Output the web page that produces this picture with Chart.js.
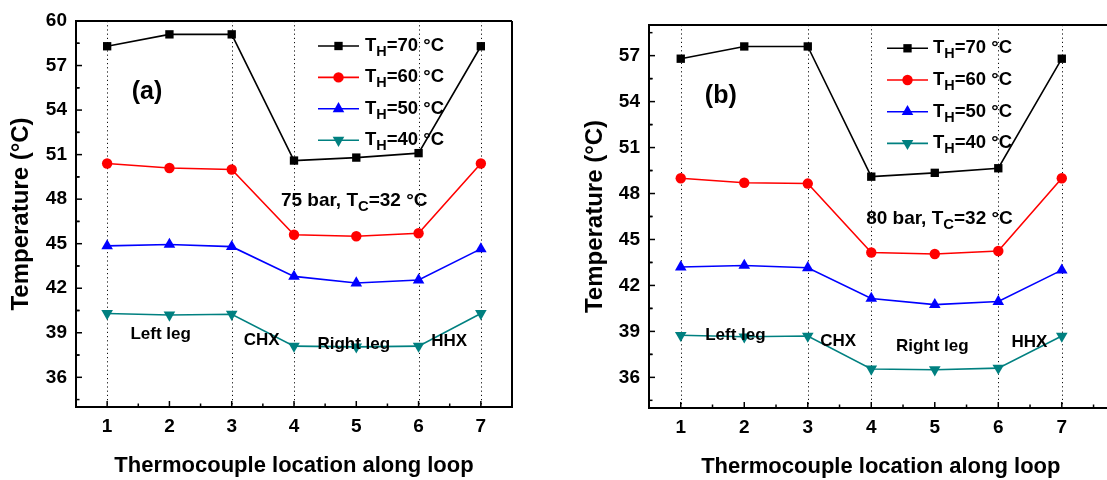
<!DOCTYPE html>
<html>
<head>
<meta charset="utf-8">
<script src="https://cdn.jsdelivr.net/npm/chart.js@4.4.1/dist/chart.umd.min.js"></script>
<style>
  body { margin: 0; background: #fff; overflow: hidden; width: 1107px; height: 480px; position: relative; }
  .panel { position: absolute; top: 0; height: 480px; width: 560px; }
  #pa { left: 0; }
  #pb { left: 560px; }
</style>
</head>
<body>
<div class="panel" id="pa"><canvas id="chartA"></canvas></div>
<div class="panel" id="pb"><canvas id="chartB"></canvas></div>
<script>
// thermocouple positions along the loop
const locations = [1, 2, 3, 4, 5, 6, 7];
const dividers = [1, 3, 4, 6, 7];
const seriesLabels = ['70', '60', '50', '40'];

// (a) 75 bar
const a70 = [58.3, 59.1, 59.1, 50.6, 50.8, 51.1, 58.3];
const a60 = [50.4, 50.1, 50.0, 45.6, 45.5, 45.7, 50.4];
const a50 = [44.85, 44.95, 44.8, 42.8, 42.35, 42.55, 44.65];
const a40 = [40.3, 40.2, 40.25, 38.1, 38.05, 38.1, 40.3];

// (b) 80 bar
const b70 = [56.8, 57.6, 57.6, 49.1, 49.35, 49.65, 56.8];
const b60 = [49.0, 48.7, 48.65, 44.15, 44.05, 44.25, 49.0];
const b50 = [43.2, 43.3, 43.15, 41.15, 40.75, 40.95, 43.0];
const b40 = [38.75, 38.65, 38.7, 36.55, 36.5, 36.6, 38.7];

const yTicksA = [36, 39, 42, 45, 48, 51, 54, 57, 60];
const yTicksB = [36, 39, 42, 45, 48, 51, 54, 57];

const FONT = 'Arial, "Liberation Sans", sans-serif';
const colors = ['#000000', '#ff0000', '#0000ff', '#008080'];
const markers = [
  { style: 'rect', radius: 5.9, rotation: 0 },
  { style: 'circle', radius: 5.2, rotation: 0 },
  { style: 'triangle', radius: 6.7, rotation: 0 },
  { style: 'triangle', radius: 6.7, rotation: 180 }
];

function makeDatasets(lists) {
  return lists.map((vals, i) => ({
    label: 'TH=' + seriesLabels[i] + ' °C',
    data: locations.map((x, j) => ({ x: x, y: vals[j] })),
    borderColor: colors[i],
    backgroundColor: colors[i],
    borderWidth: 1.6,
    pointStyle: markers[i].style,
    pointRadius: markers[i].radius,
    pointRotation: markers[i].rotation,
    pointBorderWidth: 0,
    pointHoverRadius: markers[i].radius,
    tension: 0
  }));
}

function drawMarker(ctx, m, color, x, y) {
  ctx.save();
  ctx.fillStyle = color;
  ctx.beginPath();
  if (m.style === 'rect') {
    const s = m.radius * Math.SQRT1_2;
    ctx.rect(x - s, y - s, 2 * s, 2 * s);
  } else if (m.style === 'circle') {
    ctx.arc(x, y, m.radius, 0, Math.PI * 2);
  } else {
    const r = m.radius;
    const d = m.rotation ? -1 : 1;
    ctx.moveTo(x, y - d * r);
    ctx.lineTo(x + r * 0.866, y + d * r / 2);
    ctx.lineTo(x - r * 0.866, y + d * r / 2);
    ctx.closePath();
  }
  ctx.fill();
  ctx.restore();
}

// text with subscript pieces: [[text, isSub], ...]
function drawParts(ctx, parts, x, y, size, align) {
  let w = 0;
  parts.forEach(([t, sub]) => {
    ctx.font = 'bold ' + (sub ? size * 0.78 : size) + 'px ' + FONT;
    w += ctx.measureText(t).width;
  });
  let cx = align === 'center' ? x - w / 2 : x;
  parts.forEach(([t, sub]) => {
    ctx.font = 'bold ' + (sub ? size * 0.78 : size) + 'px ' + FONT;
    ctx.fillText(t, cx, y + (sub ? size * 0.32 : 0));
    cx += ctx.measureText(t).width;
  });
}

const decor = {
  id: 'decor',
  beforeDatasetsDraw(chart) {
    const { ctx, chartArea: { top, bottom }, scales: { x } } = chart;
    ctx.save();
    ctx.strokeStyle = '#111';
    ctx.lineWidth = 1;
    ctx.setLineDash([1.2, 3]);
    dividers.forEach(v => {
      const px = Math.round(x.getPixelForValue(v)) + 0.5;
      ctx.beginPath();
      ctx.moveTo(px, top);
      ctx.lineTo(px, bottom);
      ctx.stroke();
    });
    ctx.restore();
  },
  afterDraw(chart, args, opts) {
    const { ctx, chartArea: { left, right, top, bottom }, scales: { x, y } } = chart;
    ctx.save();
    // frame
    ctx.strokeStyle = '#000';
    ctx.lineWidth = 2;
    ctx.beginPath();
    ctx.moveTo(right, top);
    ctx.lineTo(left, top);
    ctx.lineTo(left, bottom);
    ctx.lineTo(right, bottom);
    if (opts.rightBorder) ctx.lineTo(right, top);
    ctx.stroke();
    // inward ticks
    ctx.lineWidth = 1.5;
    x.ticks.forEach(t => {
      const px = x.getPixelForValue(t.value);
      ctx.beginPath(); ctx.moveTo(px, bottom); ctx.lineTo(px, bottom - 6); ctx.stroke();
      const mx = x.getPixelForValue(t.value + 0.5);
      if (t.value + 0.5 < x.max) {
        ctx.beginPath(); ctx.moveTo(mx, bottom); ctx.lineTo(mx, bottom - 3.5); ctx.stroke();
      }
    });
    y.ticks.forEach(t => {
      const py = y.getPixelForValue(t.value);
      ctx.beginPath(); ctx.moveTo(left, py); ctx.lineTo(left + 6, py); ctx.stroke();
      [t.value - 1.5, t.value + 1.5].forEach(v => {
        if (v > y.min && v < y.max) {
          const my = y.getPixelForValue(v);
          ctx.beginPath(); ctx.moveTo(left, my); ctx.lineTo(left + 3.5, my); ctx.stroke();
        }
      });
    });
    // legend
    const lg = opts.legend;
    chart.data.datasets.forEach((ds, i) => {
      const ly = top + lg.y + i * lg.gap;
      ctx.strokeStyle = ds.borderColor;
      ctx.lineWidth = 1.6;
      ctx.beginPath();
      ctx.moveTo(left + lg.x1, ly);
      ctx.lineTo(left + lg.x2, ly);
      ctx.stroke();
      drawMarker(ctx, markers[i], ds.borderColor, left + (lg.x1 + lg.x2) / 2, ly);
      ctx.fillStyle = '#000';
      ctx.textBaseline = 'middle';
      drawParts(ctx, [['T', false], ['H', true], ['=' + seriesLabels[i] + ' °C', false]], left + lg.tx, ly, 18.5, 'left');
    });
    // annotations placed in data coordinates
    ctx.fillStyle = '#000';
    ctx.textBaseline = 'middle';
    opts.notes.forEach(n => {
      drawParts(ctx, n.parts, x.getPixelForValue(n.x), y.getPixelForValue(n.y), n.size, n.align);
    });
    ctx.restore();
  }
};

function makeChart(id, lists, yTicks, cfg) {
  return new Chart(document.getElementById(id), {
    type: 'line',
    data: { datasets: makeDatasets(lists) },
    plugins: [decor],
    options: {
      responsive: true,
      maintainAspectRatio: false,
      animation: false,
      clip: false,
      layout: { padding: { left: 0, top: cfg.top, right: cfg.right, bottom: 0 } },
      plugins: {
        legend: { display: false },
        tooltip: { enabled: false },
        decor: { legend: cfg.legend, notes: cfg.notes, rightBorder: cfg.rightBorder }
      },
      scales: {
        x: {
          type: 'linear',
          min: 0.5,
          max: cfg.xMax,
          afterBuildTicks: s => { s.ticks = locations.map(v => ({ value: v })); },
          afterFit: s => { s.height = cfg.xHeight; },
          grid: { display: false, drawTicks: false },
          border: { display: false },
          ticks: { autoSkip: false, padding: 8, color: '#000', font: { family: FONT, size: 19, weight: 'bold' } },
          title: {
            display: true,
            text: 'Thermocouple location along loop',
            color: '#000',
            font: { family: FONT, size: 22, weight: 'bold' },
            padding: { top: 0, bottom: cfg.xTitlePad }
          }
        },
        y: {
          type: 'linear',
          min: 34,
          max: cfg.yMax,
          afterBuildTicks: s => { s.ticks = yTicks.map(v => ({ value: v })); },
          afterFit: s => { s.width = cfg.yWidth; },
          grid: { display: false, drawTicks: false },
          border: { display: false },
          ticks: { padding: 9, color: '#000', font: { family: FONT, size: 19, weight: 'bold' } },
          title: {
            display: true,
            text: 'Temperature (°C)',
            color: '#000',
            font: { family: FONT, size: 24, weight: 'bold' },
            padding: { top: cfg.yTitlePad, bottom: 0 }
          }
        }
      }
    }
  });
}

makeChart('chartA', [a70, a60, a50, a40], yTicksA, {
  top: 21, right: 48, xMax: 7.5, yMax: 60, xHeight: 73, yWidth: 76,
  xTitlePad: 1, yTitlePad: 7, rightBorder: true,
  legend: { x1: 242, x2: 283, tx: 289, y: 25, gap: 31.4 },
  notes: [
    { parts: [['(a)', false]], x: 1.64, y: 55.2, size: 25, align: 'center' },
    { parts: [['75 bar, T', false], ['C', true], ['=32 °C', false]], x: 3.79, y: 47.9, size: 19, align: 'left' },
    { parts: [['Left leg', false]], x: 1.86, y: 38.9, size: 17, align: 'center' },
    { parts: [['CHX', false]], x: 3.48, y: 38.49, size: 17, align: 'center' },
    { parts: [['Right leg', false]], x: 4.96, y: 38.22, size: 17, align: 'center' },
    { parts: [['HHX', false]], x: 6.49, y: 38.42, size: 17, align: 'center' }
  ]
});

makeChart('chartB', [b70, b60, b50, b40], yTicksB, {
  top: 25, right: 7.4, xMax: 7.8, yMax: 59, xHeight: 72, yWidth: 89,
  xTitlePad: 0, yTitlePad: 21, rightBorder: false,
  legend: { x1: 238, x2: 279, tx: 284, y: 23.3, gap: 31.7 },
  notes: [
    { parts: [['(b)', false]], x: 1.63, y: 54.33, size: 25, align: 'center' },
    { parts: [['80 bar, T', false], ['C', true], ['=32 °C', false]], x: 3.92, y: 46.32, size: 19, align: 'left' },
    { parts: [['Left leg', false]], x: 1.86, y: 38.76, size: 17, align: 'center' },
    { parts: [['CHX', false]], x: 3.48, y: 38.37, size: 17, align: 'center' },
    { parts: [['Right leg', false]], x: 4.96, y: 38.04, size: 17, align: 'center' },
    { parts: [['HHX', false]], x: 6.49, y: 38.3, size: 17, align: 'center' }
  ]
});
</script>
</body>
</html>
